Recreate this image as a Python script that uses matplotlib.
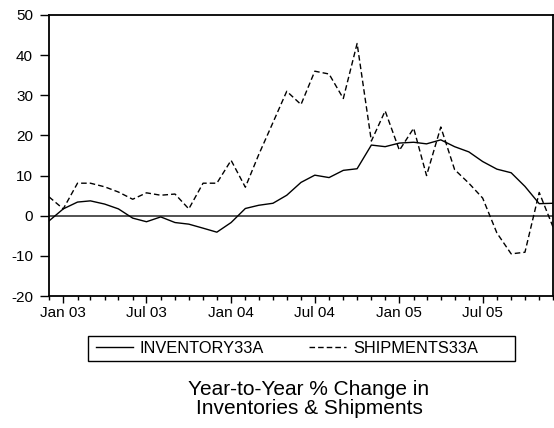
import pandas as pd
import matplotlib
matplotlib.use('Agg')
import matplotlib.pyplot as plt
import matplotlib.dates as mdates

plt.rcParams['font.family'] = ['Liberation Sans', 'DejaVu Sans']
plt.rcParams['axes.unicode_minus'] = False

# monthly year-to-year % changes, Dec 2002 .. Dec 2005
months = pd.date_range('2002-12-01', periods=37, freq='MS')
inventory = [-1.3, 1.7, 3.4, 3.7, 2.9, 1.7, -0.6, -1.5, -0.3, -1.7, -2.1, -3.1,
             -4.1, -1.7, 1.8, 2.6, 3.1, 5.1, 8.3, 10.1, 9.5, 11.3, 11.7, 17.6,
             17.2, 18.1, 18.3, 17.9, 18.9, 17.2, 15.9, 13.5, 11.6, 10.7, 7.3, 3.0, 3.1]
shipments = [4.7, 1.7, 8.1, 8.1, 7.2, 5.9, 4.1, 5.7, 5.1, 5.4, 1.7, 8.1,
             8.1, 13.8, 7.1, 15.2, 23.2, 31.0, 27.7, 36.0, 35.3, 29.2, 42.9, 18.6,
             26.1, 16.3, 21.8, 10.0, 22.1, 11.5, 8.1, 4.4, -4.3, -9.5, -9.1, 5.8, -2.8]
yticks = [-20, -10, 0, 10, 20, 30, 40, 50]

fig = plt.figure(figsize=(5.54, 4.28), dpi=100)
ax = fig.add_axes([49 / 554, 1 - 296 / 428, 504 / 554, 281 / 428])

ax.axhline(0, color='#444444', lw=1.3, zorder=1)
ax.plot(months, inventory, color='black', lw=1.0, label='INVENTORY33A', zorder=3)
ax.plot(months, shipments, color='black', lw=1.0, dashes=(4, 2.2), label='SHIPMENTS33A', zorder=3)

ax.set_xlim(months[0], months[-1])
ax.set_ylim(-20, 50)
ax.set_yticks(yticks)
ax.xaxis.set_major_locator(mdates.MonthLocator(bymonth=[1, 7]))
ax.xaxis.set_minor_locator(mdates.MonthLocator())
ax.xaxis.set_major_formatter(mdates.DateFormatter('%b %y'))

ax.tick_params(axis='x', which='major', direction='out', length=5, width=1,
               labelsize=11, color='black', pad=2)
ax.tick_params(axis='y', which='major', direction='out', length=6.5, width=1,
               labelsize=11, color='black', pad=5)
ax.tick_params(axis='x', which='minor', direction='out', length=3, width=1)
for s in ax.spines.values():
    s.set_linewidth(1.3)
    s.set_color('black')

# legend entries without frame, box drawn separately (extra room on the right)
fig.legend(loc='center left', bbox_to_anchor=(96 / 554, 1 - 348.5 / 428), ncol=2,
           fontsize=11.8, frameon=False, handlelength=2.25, handletextpad=0.42,
           columnspacing=2.75, borderpad=0, borderaxespad=0)
fig.add_artist(plt.Rectangle((88 / 554, 1 - 361 / 428), 427 / 554, 25 / 428,
                             transform=fig.transFigure, fill=False, lw=1.0, ec='black'))

fig.text(309 / 554, 1 - 399 / 428, 'Year-to-Year % Change in\nInventories & Shipments',
         ha='center', va='center', fontsize=15, linespacing=1.0)

fig.savefig('out.png', dpi=100)
